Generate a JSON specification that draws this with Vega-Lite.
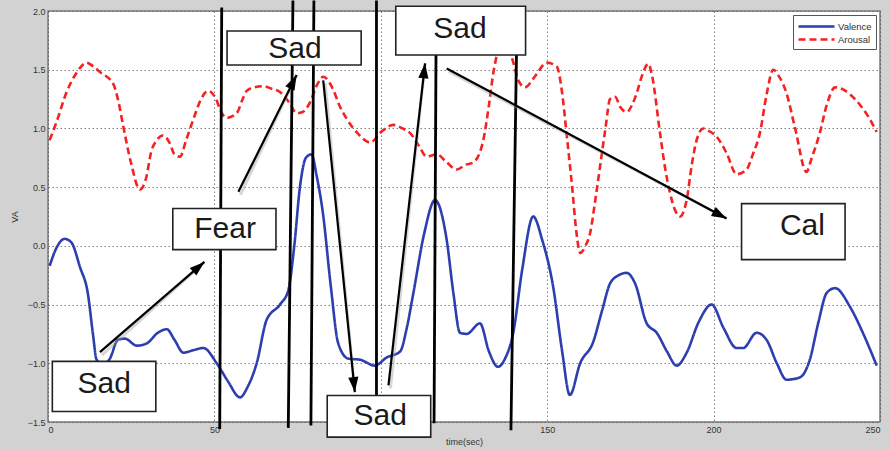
{
  "$schema": "https://vega.github.io/schema/vega-lite/v6.json",
  "width": 832,
  "height": 411,
  "autosize": {"type": "none"},
  "padding": {"left": 48, "top": 11, "right": 10, "bottom": 28},
  "background": "#d2d2d2",
  "config": {
    "view": {"fill": "white", "stroke": "#7a7a7a", "strokeWidth": 1.5},
    "font": "Liberation Sans",
    "axis": {
      "domain": false,
      "ticks": false,
      "grid": true,
      "gridColor": "#555555",
      "gridDash": [1.5, 2.5],
      "gridOpacity": 0.75,
      "labelFont": "Liberation Sans",
      "labelFontSize": 9,
      "labelColor": "#333333",
      "titleFont": "Liberation Sans",
      "titleFontSize": 9,
      "titleFontWeight": "normal",
      "titleColor": "#333333"
    },
    "axisX": {"labelPadding": 3, "titlePadding": 3},
    "axisY": {"labelPadding": 3, "titlePadding": 8},
    "legend": {
      "orient": "top-right",
      "offset": 4,
      "fillColor": "white",
      "strokeColor": "#555555",
      "padding": 4,
      "labelFont": "Liberation Sans",
      "labelFontSize": 9.5,
      "labelColor": "#333333",
      "symbolType": "M-3,0H3",
      "symbolSize": 144,
      "symbolOffset": 12,
      "labelOffset": 14,
      "symbolStrokeWidth": 2.5,
      "rowPadding": 0
    }
  },
  "datasets": {
    "curves": [
      {"t": 0.5, "value": -0.17, "series": "Valence"},
      {"t": 2.5, "value": -0.02, "series": "Valence"},
      {"t": 5, "value": 0.06, "series": "Valence"},
      {"t": 7, "value": 0.03, "series": "Valence"},
      {"t": 9.6, "value": -0.18, "series": "Valence"},
      {"t": 12, "value": -0.41, "series": "Valence"},
      {"t": 13.5, "value": -0.75, "series": "Valence"},
      {"t": 14.6, "value": -0.97, "series": "Valence"},
      {"t": 16.5, "value": -1.01, "series": "Valence"},
      {"t": 18.6, "value": -0.96, "series": "Valence"},
      {"t": 21, "value": -0.8, "series": "Valence"},
      {"t": 23.1, "value": -0.79, "series": "Valence"},
      {"t": 26.7, "value": -0.85, "series": "Valence"},
      {"t": 29.7, "value": -0.83, "series": "Valence"},
      {"t": 33, "value": -0.74, "series": "Valence"},
      {"t": 35.7, "value": -0.71, "series": "Valence"},
      {"t": 38, "value": -0.8, "series": "Valence"},
      {"t": 40.7, "value": -0.91, "series": "Valence"},
      {"t": 43.5, "value": -0.89, "series": "Valence"},
      {"t": 46.7, "value": -0.87, "series": "Valence"},
      {"t": 50.7, "value": -1.0, "series": "Valence"},
      {"t": 54, "value": -1.15, "series": "Valence"},
      {"t": 57.7, "value": -1.29, "series": "Valence"},
      {"t": 60, "value": -1.2, "series": "Valence"},
      {"t": 62.7, "value": -1.0, "series": "Valence"},
      {"t": 65.7, "value": -0.63, "series": "Valence"},
      {"t": 69.7, "value": -0.5, "series": "Valence"},
      {"t": 72.2, "value": -0.38, "series": "Valence"},
      {"t": 74, "value": 0.0, "series": "Valence"},
      {"t": 75.7, "value": 0.5, "series": "Valence"},
      {"t": 77.5, "value": 0.75, "series": "Valence"},
      {"t": 79.2, "value": 0.78, "series": "Valence"},
      {"t": 80.7, "value": 0.6, "series": "Valence"},
      {"t": 82.6, "value": 0.28, "series": "Valence"},
      {"t": 85, "value": -0.35, "series": "Valence"},
      {"t": 87.2, "value": -0.83, "series": "Valence"},
      {"t": 90.2, "value": -0.96, "series": "Valence"},
      {"t": 93.8, "value": -0.97, "series": "Valence"},
      {"t": 98.2, "value": -1.02, "series": "Valence"},
      {"t": 101.8, "value": -0.95, "series": "Valence"},
      {"t": 105.8, "value": -0.9, "series": "Valence"},
      {"t": 107.8, "value": -0.7, "series": "Valence"},
      {"t": 109.8, "value": -0.4, "series": "Valence"},
      {"t": 113, "value": 0.1, "series": "Valence"},
      {"t": 116.3, "value": 0.39, "series": "Valence"},
      {"t": 119.8, "value": 0.05, "series": "Valence"},
      {"t": 121.8, "value": -0.4, "series": "Valence"},
      {"t": 123.8, "value": -0.74, "series": "Valence"},
      {"t": 125.8, "value": -0.75, "series": "Valence"},
      {"t": 129.8, "value": -0.66, "series": "Valence"},
      {"t": 132.5, "value": -0.9, "series": "Valence"},
      {"t": 135.2, "value": -1.03, "series": "Valence"},
      {"t": 137.5, "value": -0.95, "series": "Valence"},
      {"t": 139.8, "value": -0.74, "series": "Valence"},
      {"t": 142.5, "value": -0.2, "series": "Valence"},
      {"t": 145.8, "value": 0.25, "series": "Valence"},
      {"t": 148.5, "value": 0.05, "series": "Valence"},
      {"t": 151.8, "value": -0.35, "series": "Valence"},
      {"t": 154.5, "value": -0.9, "series": "Valence"},
      {"t": 156.8, "value": -1.27, "series": "Valence"},
      {"t": 159.9, "value": -1.0, "series": "Valence"},
      {"t": 163.8, "value": -0.82, "series": "Valence"},
      {"t": 166.5, "value": -0.55, "series": "Valence"},
      {"t": 168.9, "value": -0.32, "series": "Valence"},
      {"t": 171.5, "value": -0.25, "series": "Valence"},
      {"t": 173.9, "value": -0.23, "series": "Valence"},
      {"t": 176.4, "value": -0.32, "series": "Valence"},
      {"t": 179.9, "value": -0.66, "series": "Valence"},
      {"t": 182.9, "value": -0.74, "series": "Valence"},
      {"t": 186, "value": -0.9, "series": "Valence"},
      {"t": 188.9, "value": -1.02, "series": "Valence"},
      {"t": 191.9, "value": -0.91, "series": "Valence"},
      {"t": 195.5, "value": -0.65, "series": "Valence"},
      {"t": 199.4, "value": -0.5, "series": "Valence"},
      {"t": 203, "value": -0.7, "series": "Valence"},
      {"t": 206.9, "value": -0.87, "series": "Valence"},
      {"t": 208.9, "value": -0.87, "series": "Valence"},
      {"t": 212.9, "value": -0.74, "series": "Valence"},
      {"t": 215.9, "value": -0.8, "series": "Valence"},
      {"t": 219, "value": -1.0, "series": "Valence"},
      {"t": 221.9, "value": -1.14, "series": "Valence"},
      {"t": 225.9, "value": -1.12, "series": "Valence"},
      {"t": 228.9, "value": -0.97, "series": "Valence"},
      {"t": 231.5, "value": -0.65, "series": "Valence"},
      {"t": 234, "value": -0.4, "series": "Valence"},
      {"t": 236.5, "value": -0.36, "series": "Valence"},
      {"t": 241, "value": -0.52, "series": "Valence"},
      {"t": 245, "value": -0.75, "series": "Valence"},
      {"t": 249, "value": -1.02, "series": "Valence"},
      {"t": 0.5, "value": 0.9, "series": "Arousal"},
      {"t": 2.5, "value": 1.05, "series": "Arousal"},
      {"t": 5.6, "value": 1.31, "series": "Arousal"},
      {"t": 8.5, "value": 1.47, "series": "Arousal"},
      {"t": 11.6, "value": 1.56, "series": "Arousal"},
      {"t": 13.5, "value": 1.53, "series": "Arousal"},
      {"t": 15.6, "value": 1.48, "series": "Arousal"},
      {"t": 19.6, "value": 1.38, "series": "Arousal"},
      {"t": 21, "value": 1.25, "series": "Arousal"},
      {"t": 22.6, "value": 1.02, "series": "Arousal"},
      {"t": 25, "value": 0.7, "series": "Arousal"},
      {"t": 27.6, "value": 0.48, "series": "Arousal"},
      {"t": 29.5, "value": 0.58, "series": "Arousal"},
      {"t": 31, "value": 0.8, "series": "Arousal"},
      {"t": 32.7, "value": 0.9, "series": "Arousal"},
      {"t": 34.5, "value": 0.94, "series": "Arousal"},
      {"t": 36.5, "value": 0.88, "series": "Arousal"},
      {"t": 38, "value": 0.78, "series": "Arousal"},
      {"t": 39.7, "value": 0.76, "series": "Arousal"},
      {"t": 41.5, "value": 0.9, "series": "Arousal"},
      {"t": 43.7, "value": 1.08, "series": "Arousal"},
      {"t": 46, "value": 1.25, "series": "Arousal"},
      {"t": 48.1, "value": 1.32, "series": "Arousal"},
      {"t": 50.5, "value": 1.25, "series": "Arousal"},
      {"t": 51.7, "value": 1.16, "series": "Arousal"},
      {"t": 53.7, "value": 1.09, "series": "Arousal"},
      {"t": 56.7, "value": 1.13, "series": "Arousal"},
      {"t": 58.5, "value": 1.25, "series": "Arousal"},
      {"t": 59.7, "value": 1.32, "series": "Arousal"},
      {"t": 62, "value": 1.35, "series": "Arousal"},
      {"t": 64.7, "value": 1.36, "series": "Arousal"},
      {"t": 67, "value": 1.34, "series": "Arousal"},
      {"t": 69.7, "value": 1.31, "series": "Arousal"},
      {"t": 72.5, "value": 1.22, "series": "Arousal"},
      {"t": 74.7, "value": 1.13, "series": "Arousal"},
      {"t": 76.5, "value": 1.14, "series": "Arousal"},
      {"t": 78.7, "value": 1.22, "series": "Arousal"},
      {"t": 81, "value": 1.38, "series": "Arousal"},
      {"t": 82.7, "value": 1.44, "series": "Arousal"},
      {"t": 85.7, "value": 1.33, "series": "Arousal"},
      {"t": 87.5, "value": 1.2, "series": "Arousal"},
      {"t": 89.8, "value": 1.08, "series": "Arousal"},
      {"t": 93, "value": 0.96, "series": "Arousal"},
      {"t": 96.8, "value": 0.88, "series": "Arousal"},
      {"t": 100.5, "value": 0.98, "series": "Arousal"},
      {"t": 103.8, "value": 1.03, "series": "Arousal"},
      {"t": 106.5, "value": 1.0, "series": "Arousal"},
      {"t": 108.8, "value": 0.96, "series": "Arousal"},
      {"t": 111.5, "value": 0.85, "series": "Arousal"},
      {"t": 113.8, "value": 0.76, "series": "Arousal"},
      {"t": 116.8, "value": 0.78, "series": "Arousal"},
      {"t": 119.5, "value": 0.72, "series": "Arousal"},
      {"t": 122.8, "value": 0.65, "series": "Arousal"},
      {"t": 125.5, "value": 0.69, "series": "Arousal"},
      {"t": 127.8, "value": 0.71, "series": "Arousal"},
      {"t": 130.8, "value": 0.9, "series": "Arousal"},
      {"t": 132.5, "value": 1.2, "series": "Arousal"},
      {"t": 133.8, "value": 1.47, "series": "Arousal"},
      {"t": 135.5, "value": 1.68, "series": "Arousal"},
      {"t": 137.3, "value": 1.74, "series": "Arousal"},
      {"t": 139.4, "value": 1.6, "series": "Arousal"},
      {"t": 141.5, "value": 1.4, "series": "Arousal"},
      {"t": 143.3, "value": 1.35, "series": "Arousal"},
      {"t": 146.5, "value": 1.45, "series": "Arousal"},
      {"t": 149.8, "value": 1.56, "series": "Arousal"},
      {"t": 152.8, "value": 1.53, "series": "Arousal"},
      {"t": 154.5, "value": 1.3, "series": "Arousal"},
      {"t": 155.8, "value": 0.96, "series": "Arousal"},
      {"t": 157.5, "value": 0.5, "series": "Arousal"},
      {"t": 158.8, "value": 0.11, "series": "Arousal"},
      {"t": 159.9, "value": -0.06, "series": "Arousal"},
      {"t": 161.5, "value": 0.0, "series": "Arousal"},
      {"t": 162.9, "value": 0.11, "series": "Arousal"},
      {"t": 164.5, "value": 0.4, "series": "Arousal"},
      {"t": 165.9, "value": 0.68, "series": "Arousal"},
      {"t": 167.5, "value": 1.0, "series": "Arousal"},
      {"t": 168.9, "value": 1.25, "series": "Arousal"},
      {"t": 170.4, "value": 1.27, "series": "Arousal"},
      {"t": 172, "value": 1.18, "series": "Arousal"},
      {"t": 173.9, "value": 1.14, "series": "Arousal"},
      {"t": 175.5, "value": 1.2, "series": "Arousal"},
      {"t": 176.9, "value": 1.3, "series": "Arousal"},
      {"t": 178.5, "value": 1.45, "series": "Arousal"},
      {"t": 180.4, "value": 1.55, "series": "Arousal"},
      {"t": 181.5, "value": 1.45, "series": "Arousal"},
      {"t": 183.9, "value": 0.96, "series": "Arousal"},
      {"t": 185.5, "value": 0.65, "series": "Arousal"},
      {"t": 186.9, "value": 0.45, "series": "Arousal"},
      {"t": 188.5, "value": 0.3, "series": "Arousal"},
      {"t": 189.9, "value": 0.25, "series": "Arousal"},
      {"t": 191.9, "value": 0.39, "series": "Arousal"},
      {"t": 193.5, "value": 0.7, "series": "Arousal"},
      {"t": 194.9, "value": 0.9, "series": "Arousal"},
      {"t": 196.9, "value": 1.0, "series": "Arousal"},
      {"t": 198.5, "value": 0.98, "series": "Arousal"},
      {"t": 200.9, "value": 0.93, "series": "Arousal"},
      {"t": 203.9, "value": 0.79, "series": "Arousal"},
      {"t": 206.9, "value": 0.61, "series": "Arousal"},
      {"t": 209.9, "value": 0.65, "series": "Arousal"},
      {"t": 211.8, "value": 0.78, "series": "Arousal"},
      {"t": 213.9, "value": 0.96, "series": "Arousal"},
      {"t": 216, "value": 1.3, "series": "Arousal"},
      {"t": 217.9, "value": 1.5, "series": "Arousal"},
      {"t": 219.5, "value": 1.45, "series": "Arousal"},
      {"t": 221.9, "value": 1.3, "series": "Arousal"},
      {"t": 224.5, "value": 1.0, "series": "Arousal"},
      {"t": 227.9, "value": 0.63, "series": "Arousal"},
      {"t": 229.5, "value": 0.75, "series": "Arousal"},
      {"t": 231.9, "value": 0.96, "series": "Arousal"},
      {"t": 234, "value": 1.2, "series": "Arousal"},
      {"t": 236.5, "value": 1.35, "series": "Arousal"},
      {"t": 239, "value": 1.33, "series": "Arousal"},
      {"t": 241, "value": 1.29, "series": "Arousal"},
      {"t": 244, "value": 1.2, "series": "Arousal"},
      {"t": 246.5, "value": 1.1, "series": "Arousal"},
      {"t": 249, "value": 0.97, "series": "Arousal"}
    ],
    "markers": [
      {"t": 52.2, "t2": 51.6, "top": 2.03, "bottom": -1.56},
      {"t": 73.6, "t2": 72.2, "top": 2.09, "bottom": -1.55},
      {"t": 79.9, "t2": 79.0, "top": 2.09, "bottom": -1.53},
      {"t": 98.7, "t2": 98.7, "top": 2.09, "bottom": -1.27},
      {"t": 116.6, "t2": 116.0, "top": 1.7, "bottom": -1.51},
      {"t": 140.8, "t2": 139.1, "top": 1.7, "bottom": -1.57}
    ],
    "boxes": [
      {"label": "Sad", "x0": 1.3, "x1": 32.4, "ytop": -0.984, "ybot": -1.41, "lx": 16.9, "ly": -1.18},
      {"label": "Fear", "x0": 37.5, "x1": 68.5, "ytop": 0.318, "ybot": -0.032, "lx": 53.2, "ly": 0.14},
      {"label": "Sad", "x0": 53.8, "x1": 94.1, "ytop": 1.83, "ybot": 1.54, "lx": 74.2, "ly": 1.68},
      {"label": "Sad", "x0": 83.9, "x1": 115.0, "ytop": -1.274, "ybot": -1.629, "lx": 99.8, "ly": -1.45},
      {"label": "Sad", "x0": 104.5, "x1": 143.5, "ytop": 2.04, "ybot": 1.625, "lx": 123.8, "ly": 1.85},
      {"label": "Cal", "x0": 208.4, "x1": 239.5, "ytop": 0.36, "ybot": -0.117, "lx": 226.7, "ly": 0.17}
    ],
    "arrows": [
      {"xs": 15.6, "ys": -0.905, "xe": 47.0, "ye": -0.137},
      {"xs": 57.2, "ys": 0.46, "xe": 74.7, "ye": 1.454},
      {"xs": 82.7, "ys": 1.41, "xe": 92.2, "ye": -1.245},
      {"xs": 102.3, "ys": -1.188, "xe": 113.3, "ye": 1.554},
      {"xs": 119.8, "ys": 1.511, "xe": 203.9, "ye": 0.233}
    ]
  },
  "layer": [
    {
      "data": {"name": "curves"},
      "mark": {"type": "line", "strokeWidth": 2.6, "interpolate": "monotone"},
      "encoding": {
        "x": {"field": "t", "type": "quantitative", "title": "time(sec)", "scale": {"domain": [0, 250], "nice": false, "zero": false},
              "axis": {"values": [0, 50, 100, 150, 200, 250], "labelExpr": "datum.value == 100 ? '' : datum.label"}},
        "y": {"field": "value", "type": "quantitative", "title": "VA", "scale": {"domain": [-1.5, 2], "nice": false, "zero": false},
              "axis": {"values": [-1.5, -1, -0.5, 0, 0.5, 1, 1.5, 2]}},
        "color": {"field": "series", "type": "nominal", "title": null,
                  "scale": {"domain": ["Valence", "Arousal"], "range": ["#2d3fae", "#f52222"]}},
        "strokeDash": {"field": "series", "type": "nominal", "title": null,
                       "scale": {"domain": ["Valence", "Arousal"], "range": [[1, 0], [7, 4]]}}
      }
    },
    {
      "data": {"name": "markers"},
      "mark": {"type": "rule", "color": "black", "strokeWidth": 2.8},
      "encoding": {
        "x": {"field": "t", "type": "quantitative", "title": "time(sec)", "scale": {"domain": [0, 250], "nice": false, "zero": false},
              "axis": {"values": [0, 50, 100, 150, 200, 250], "labelExpr": "datum.value == 100 ? '' : datum.label"}},
        "x2": {"field": "t2"},
        "y": {"field": "top", "type": "quantitative", "title": "VA", "scale": {"domain": [-1.5, 2], "nice": false, "zero": false},
              "axis": {"values": [-1.5, -1, -0.5, 0, 0.5, 1, 1.5, 2]}},
        "y2": {"field": "bottom"}
      }
    },
    {
      "data": {"name": "boxes"},
      "mark": {"type": "rect", "fill": "white", "stroke": "#222222", "strokeWidth": 1.6},
      "encoding": {
        "x": {"field": "x0", "type": "quantitative", "title": "time(sec)", "scale": {"domain": [0, 250], "nice": false, "zero": false},
              "axis": {"values": [0, 50, 100, 150, 200, 250], "labelExpr": "datum.value == 100 ? '' : datum.label"}},
        "x2": {"field": "x1"},
        "y": {"field": "ytop", "type": "quantitative", "title": "VA", "scale": {"domain": [-1.5, 2], "nice": false, "zero": false},
              "axis": {"values": [-1.5, -1, -0.5, 0, 0.5, 1, 1.5, 2]}},
        "y2": {"field": "ybot"}
      }
    },
    {
      "data": {"name": "boxes"},
      "mark": {"type": "text", "font": "Liberation Sans", "fontSize": 30, "color": "#1a1a1a", "align": "center", "baseline": "middle"},
      "encoding": {
        "x": {"field": "lx", "type": "quantitative", "title": "time(sec)", "scale": {"domain": [0, 250], "nice": false, "zero": false},
              "axis": {"values": [0, 50, 100, 150, 200, 250], "labelExpr": "datum.value == 100 ? '' : datum.label"}},
        "y": {"field": "ly", "type": "quantitative", "title": "VA", "scale": {"domain": [-1.5, 2], "nice": false, "zero": false},
              "axis": {"values": [-1.5, -1, -0.5, 0, 0.5, 1, 1.5, 2]}},
        "text": {"field": "label"}
      }
    },
    {
      "data": {"name": "arrows"},
      "mark": {"type": "rule", "color": "#9a9a9a", "strokeWidth": 3, "opacity": 0.4, "xOffset": 2, "yOffset": 3},
      "encoding": {
        "x": {"field": "xs", "type": "quantitative", "title": "time(sec)", "scale": {"domain": [0, 250], "nice": false, "zero": false},
              "axis": {"values": [0, 50, 100, 150, 200, 250], "labelExpr": "datum.value == 100 ? '' : datum.label"}},
        "x2": {"field": "xe"},
        "y": {"field": "ys", "type": "quantitative", "title": "VA", "scale": {"domain": [-1.5, 2], "nice": false, "zero": false},
              "axis": {"values": [-1.5, -1, -0.5, 0, 0.5, 1, 1.5, 2]}},
        "y2": {"field": "ye"}
      }
    },
    {
      "data": {"name": "arrows"},
      "mark": {"type": "rule", "color": "black", "strokeWidth": 2.2},
      "encoding": {
        "x": {"field": "xs", "type": "quantitative", "title": "time(sec)", "scale": {"domain": [0, 250], "nice": false, "zero": false},
              "axis": {"values": [0, 50, 100, 150, 200, 250], "labelExpr": "datum.value == 100 ? '' : datum.label"}},
        "x2": {"field": "xe"},
        "y": {"field": "ys", "type": "quantitative", "title": "VA", "scale": {"domain": [-1.5, 2], "nice": false, "zero": false},
              "axis": {"values": [-1.5, -1, -0.5, 0, 0.5, 1, 1.5, 2]}},
        "y2": {"field": "ye"}
      }
    },
    {
      "data": {"name": "arrows"},
      "transform": [
        {"calculate": "atan2((datum.xe - datum.xs) * 3.328, (datum.ye - datum.ys) * 117.3) * 180 / PI", "as": "heading"}
      ],
      "mark": {"type": "point", "shape": "M0,0L-0.34,1L0.34,1Z", "filled": true, "color": "black", "opacity": 1, "size": 900},
      "encoding": {
        "x": {"field": "xe", "type": "quantitative", "title": "time(sec)", "scale": {"domain": [0, 250], "nice": false, "zero": false},
              "axis": {"values": [0, 50, 100, 150, 200, 250], "labelExpr": "datum.value == 100 ? '' : datum.label"}},
        "y": {"field": "ye", "type": "quantitative", "title": "VA", "scale": {"domain": [-1.5, 2], "nice": false, "zero": false},
              "axis": {"values": [-1.5, -1, -0.5, 0, 0.5, 1, 1.5, 2]}},
        "angle": {"field": "heading", "type": "quantitative", "scale": null}
      }
    }
  ]
}
